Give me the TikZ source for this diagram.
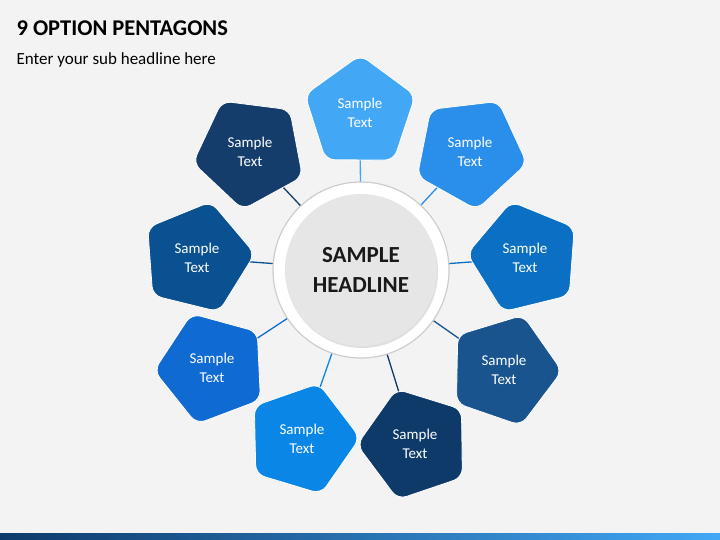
\documentclass[tikz,border=0pt]{standalone}
\usepackage{fontspec}
\setmainfont{Carlito}
\usetikzlibrary{shapes.geometric,calc,shadows}
\definecolor{bg}{HTML}{F3F3F3}
\definecolor{cA}{HTML}{42A8F6}
\definecolor{cB}{HTML}{2A8FEA}
\definecolor{cC}{HTML}{0B70C4}
\definecolor{cD}{HTML}{1A548E}
\definecolor{cE}{HTML}{0E3A6A}
\definecolor{cF}{HTML}{0A86E6}
\definecolor{cG}{HTML}{0F6BD2}
\definecolor{cH}{HTML}{0A5192}
\definecolor{cI}{HTML}{143D6B}
\tikzset{
  pent/.style={regular polygon, regular polygon sides=5, minimum size=116pt, inner sep=0pt, rounded corners=9pt, draw=white, line width=0.8pt},
  ptext/.style={text=white, font=\fontsize{15}{19}\selectfont, align=center},
  conn/.style={line width=1.3pt}
}
\begin{document}
\begin{tikzpicture}[x=1pt,y=-1pt]
\fill[bg] (0,0) rectangle (720,540);
\useasboundingbox (0,0) rectangle (720,540);
\shade[left color=cE, right color=cA] (0,533) rectangle (720,540);
\node[anchor=west, font=\bfseries\fontsize{22.5}{26}\selectfont, text=black] (title) at (13,28) {9 OPTION PENTAGONS};
\node[anchor=west, font=\fontsize{17}{20}\selectfont, text=black] (sub) at (13,60) {Enter your sub headline here};
\coordinate (c) at (361,270);
\foreach \n/\x/\y/\col in {a/360/113/cA, b/470/152/cB, c/525/258/cC, d/504/370/cD, e/415/444/cE, f/302/439/cF, g/212/368/cG, h/197/258/cH, i/250/152/cI}{
  \pgfmathsetmacro{\ang}{atan2(\y-270,361-\x)}
  \pgfmathsetmacro{\rot}{-\ang-90}
  \draw[conn, draw=\col] (\x,\y) -- ($(c)!80pt!(\x,\y)$);
  \node[pent, fill=\col, shape border rotate=\rot] (p\n) at (\x,\y) {};
  \node[ptext] (t\n) at (\x,\y) {Sample\\Text};
}
\node[circle, minimum size=176pt, fill=white, draw={rgb,255:red,205;green,205;blue,205}, line width=1.2pt] (ring) at (c) {};
\node[circle, minimum size=152pt, fill={rgb,255:red,230;green,230;blue,230}, drop shadow={opacity=0.25, shadow xshift=1pt, shadow yshift=-2pt}, align=center, font=\bfseries\fontsize{23}{30}\selectfont, text={rgb,255:red,25;green,25;blue,25}] (head) at (c) {SAMPLE\\HEADLINE};
\end{tikzpicture}
\end{document}
